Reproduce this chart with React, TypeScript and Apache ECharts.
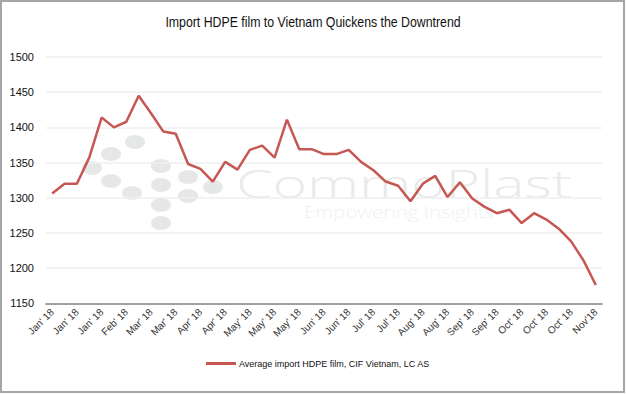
import React, { useEffect, useRef } from "react";
import * as echarts from "echarts";

const TITLE = "Import HDPE film to Vietnam Quickens the Downtrend";
const SERIES_NAME = "Average import HDPE film, CIF Vietnam, LC AS";

// 45 weekly points; every other one is labelled on the axis
const categories = [
  "Jan' 18", "Jan' 18", "Jan' 18", "Jan' 18", "Jan' 18", "Feb' 18",
  "Feb' 18", "Feb' 18", "Mar' 18", "Mar' 18", "Mar' 18", "Mar' 18",
  "Apr' 18", "Apr' 18", "Apr' 18", "Apr' 18", "May' 18", "May' 18",
  "May' 18", "May' 18", "May' 18", "Jun' 18", "Jun' 18", "Jun' 18",
  "Jun' 18", "Jul' 18", "Jul' 18", "Jul' 18", "Jul' 18", "Aug' 18",
  "Aug' 18", "Aug' 18", "Aug' 18", "Sep' 18", "Sep' 18", "Sep' 18",
  "Sep' 18", "Oct' 18", "Oct' 18", "Oct' 18", "Oct' 18", "Oct' 18",
  "Oct' 18", "Nov' 18", "Nov'18",
];

const values = [
  1306, 1320, 1320, 1357, 1414, 1400, 1408, 1445, 1420, 1394,
  1391, 1348, 1341, 1323, 1351, 1340, 1368, 1374, 1357, 1411,
  1369, 1369, 1362, 1362, 1368, 1351, 1339, 1323, 1317, 1295,
  1320, 1331, 1301, 1322, 1299, 1287, 1278, 1283, 1264, 1278,
  1269, 1256, 1238, 1211, 1176,
];

const Y_MIN = 1150;
const Y_MAX = 1500;
const Y_STEP = 50;

const SANS = "'Liberation Sans', Arial, sans-serif";

// watermark logo dots
const logoDots: [number, number][] = [
  [92, 168], [111, 154], [135, 142], [111, 181], [132, 193],
  [161, 166], [161, 185], [161, 205], [161, 223],
  [188, 177], [188, 196], [213, 187],
];

export default function App() {
  const ref = useRef<HTMLDivElement>(null);
  useEffect(() => {
    if (!ref.current) return;
    const chart = echarts.init(ref.current, undefined, { renderer: "svg" });
    const graphics: any[] = [
      {
        type: "rect",
        shape: { x: 1, y: 1, width: 623, height: 391 },
        style: { fill: "none", stroke: "#a6a6a6", lineWidth: 2 },
        z: -10,
        silent: true,
      },
      {
        type: "text",
        x: 313,
        y: 22,
        scaleX: 0.88,
        style: {
          text: TITLE,
          fill: "#111",
          font: "normal 14px " + SANS,
          textAlign: "center",
          textVerticalAlign: "middle",
        },
        silent: true,
      },
      ...logoDots.map(([cx, cy]) => ({
        type: "ellipse",
        shape: { cx, cy, rx: 10, ry: 7 },
        style: { fill: "#e6e8e7" },
        z: -5,
        silent: true,
      })),
      {
        type: "text",
        x: 236,
        y: 202,
        scaleX: 1.55,
        style: {
          text: "CommoPlast",
          fill: "#e8ebe9",
          font: "300 38px 'Open Sans', sans-serif",
          textVerticalAlign: "bottom",
        },
        z: -5,
        silent: true,
      },
      {
        type: "text",
        x: 304,
        y: 203,
        scaleX: 1.2,
        style: {
          text: "Empowering Insights",
          fill: "#eff1f0",
          font: "300 17px 'Open Sans', sans-serif",
          textVerticalAlign: "top",
        },
        z: -5,
        silent: true,
      },
    ];
    chart.setOption({
      animation: false,
      backgroundColor: "#ffffff",
      graphic: { elements: graphics },
      legend: {
        bottom: 21,
        left: 201,
        icon: "rect",
        itemWidth: 30,
        itemHeight: 3,
        itemGap: 4,
        textStyle: { fontFamily: SANS, fontSize: 9, color: "#111", padding: [0, 0, 0, -2] },
        data: [SERIES_NAME],
      },
      grid: { left: 46, right: 24, top: 57, bottom: 90.7, containLabel: false },
      xAxis: {
        type: "category",
        data: categories,
        boundaryGap: true,
        axisLine: { show: true, lineStyle: { color: "#a0a0a0", width: 2 } },
        axisTick: { show: false },
        axisLabel: {
          interval: 1,
          rotate: 45,
          margin: 7,
          fontSize: 10,
          fontFamily: SANS,
          color: "#333",
        },
        splitLine: { show: false },
      },
      yAxis: {
        type: "value",
        min: Y_MIN,
        max: Y_MAX,
        interval: Y_STEP,
        axisLine: { show: false },
        axisTick: { show: false },
        axisLabel: {
          margin: 12,
          fontSize: 11,
          fontFamily: SANS,
          color: "#111",
          formatter: (v: number) => String(v),
        },
        splitLine: { lineStyle: { color: "#efefef", width: 1.5 } },
      },
      series: [
        {
          name: SERIES_NAME,
          type: "line",
          data: values,
          showSymbol: false,
          symbol: "none",
          z: 5,
          lineStyle: { color: "#c65752", width: 2.5 },
          itemStyle: { color: "#c65752" },
        },
      ],
    });
    return () => chart.dispose();
  }, []);
  return (
    <div
      ref={ref}
      style={{ position: "fixed", left: 0, top: 0, width: 626, height: 394 }}
    />
  );
}
